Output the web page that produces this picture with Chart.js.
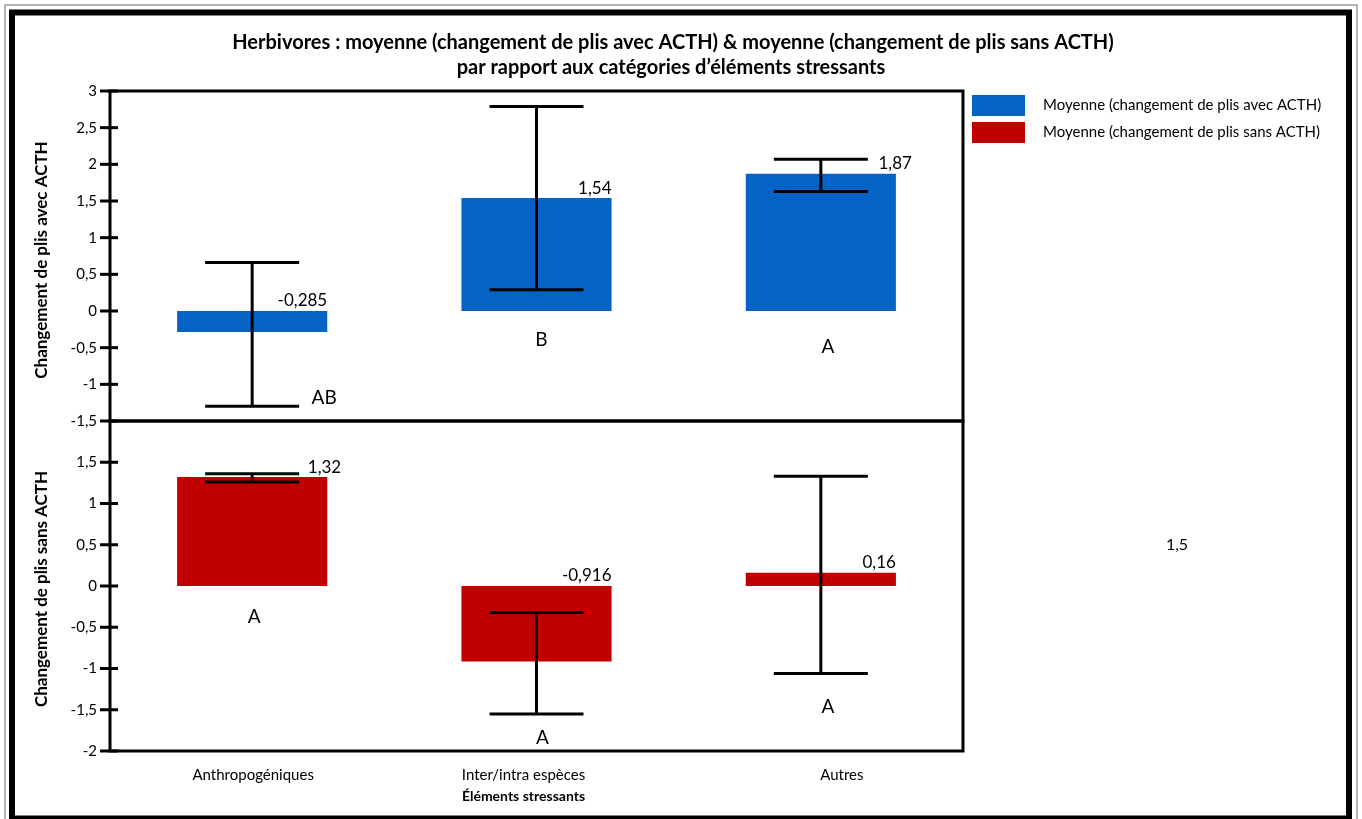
<!DOCTYPE html>
<html>
<head>
<meta charset="utf-8">
<script src="https://cdn.jsdelivr.net/npm/chart.js@4/dist/chart.umd.min.js"></script>
<style>
  html, body { margin: 0; padding: 0; background: #fff; }
  canvas { display: block; }
</style>
</head>
<body>
<canvas id="chart" width="1362" height="819"></canvas>
<script>
// Stressor categories and the two fold-change series (with / without ACTH)
const categories = ['Anthropogéniques', 'Inter/intra espèces', 'Autres'];

const meanWithACTH = [-0.285, 1.54, 1.87];
const errLowWithACTH = [-1.30, 0.29, 1.63];
const errHighWithACTH = [0.66, 2.79, 2.07];

const meanWithoutACTH = [1.32, -0.916, 0.16];
const errLowWithoutACTH = [1.26, -1.55, -1.06];
const errHighWithoutACTH = [1.36, -0.32, 1.33];

// Significance letters per category
const lettersWithACTH = ['AB', 'B', 'A'];
const lettersWithoutACTH = ['A', 'A', 'A'];
// Where each letter sits, in axis units
const letterValueWithACTH = [-1.19, -0.40, -0.49];
const letterValueWithoutACTH = [-0.38, -1.84, -1.47];

// Tick values of the two stacked y axes
const ticksWithACTH = [-1.5, -1, -0.5, 0, 0.5, 1, 1.5, 2, 2.5, 3];
const ticksWithoutACTH = [-2, -1.5, -1, -0.5, 0, 0.5, 1, 1.5];

const legendLabels = ['Moyenne (changement de plis avec ACTH)', 'Moyenne (changement de plis sans ACTH)'];
const titleLines = [
  'Herbivores : moyenne (changement de plis avec ACTH) & moyenne (changement de plis sans ACTH)',
  'par rapport aux catégories d’éléments stressants'
];
const xAxisTitle = 'Éléments stressants';
const yTitleTop = 'Changement de plis avec ACTH';
const yTitleBottom = 'Changement de plis sans ACTH';
const strayNote = '1,5';

const BLUE = '#0563C6';
const RED = '#C00000';
const FONT = 'Lato, "Open Sans", sans-serif';

const fmt = v => String(v).replace('.', ',');

// pixel nudges for text placement
const valueLabelNudgeTop = [0, 0, 16];
const valueLabelNudgeBottom = [14, 0, 0];
const letterNudgeTop = [72, 5, 7];
const letterNudgeBottom = [2, 6, 7];
const xLabelNudge = [1, -13, 21];

function line(ctx, x1, y1, x2, y2) {
  ctx.beginPath();
  ctx.moveTo(x1, y1);
  ctx.lineTo(x2, y2);
  ctx.stroke();
}

const decorations = {
  id: 'decorations',
  beforeDraw(chart) {
    const ctx = chart.ctx;
    ctx.save();
    ctx.fillStyle = '#fff';
    ctx.fillRect(0, 0, chart.width, chart.height);
    // outer page frame
    ctx.strokeStyle = '#9a9a9a';
    ctx.lineWidth = 1.5;
    ctx.strokeRect(5, 5, 1352, 830);
    ctx.strokeStyle = '#000';
    ctx.lineWidth = 6;
    ctx.strokeRect(12, 12.5, 1337, 806);
    ctx.restore();
  },
  afterDatasetsDraw(chart) {
    const ctx = chart.ctx;
    const x = chart.scales.x;
    const yTop = chart.scales.yTop;
    const yBot = chart.scales.yBottom;
    const area = chart.chartArea;
    ctx.save();
    ctx.strokeStyle = '#000';
    ctx.fillStyle = '#000';

    // panel frames
    ctx.lineWidth = 3;
    ctx.strokeRect(area.left, yTop.top, area.right - area.left, yTop.bottom - yTop.top);
    ctx.strokeRect(area.left, yBot.top, area.right - area.left, yBot.bottom - yBot.top);

    // tick marks crossing the axis
    [yTop, yBot].forEach(s => {
      s.ticks.forEach(t => {
        const py = s.getPixelForValue(t.value);
        line(ctx, area.left - 10, py, area.left + 8, py);
      });
    });

    // error bars
    const cap = 47;
    const drawErr = (scale, lo, hi) => {
      lo.forEach((v, i) => {
        const cx = x.getPixelForValue(i);
        const yl = scale.getPixelForValue(v);
        const yh = scale.getPixelForValue(hi[i]);
        ctx.lineWidth = 3;
        line(ctx, cx, yl, cx, yh);
        line(ctx, cx - cap, yl, cx + cap, yl);
        line(ctx, cx - cap, yh, cx + cap, yh);
      });
    };
    drawErr(yTop, errLowWithACTH, errHighWithACTH);
    drawErr(yBot, errLowWithoutACTH, errHighWithoutACTH);

    // value labels at the top right of each bar
    const drawValues = (meta, scale, values, nudge) => {
      ctx.font = '17px ' + FONT;
      ctx.textAlign = 'right';
      ctx.textBaseline = 'middle';
      values.forEach((v, i) => {
        const bar = meta.data[i];
        const right = bar.x + bar.width / 2;
        const py = scale.getPixelForValue(Math.max(v, 0)) - 10;
        ctx.fillText(fmt(v), right + nudge[i], py);
      });
    };
    drawValues(chart.getDatasetMeta(0), yTop, meanWithACTH, valueLabelNudgeTop);
    drawValues(chart.getDatasetMeta(1), yBot, meanWithoutACTH, valueLabelNudgeBottom);

    // significance letters
    ctx.font = '19px ' + FONT;
    ctx.textAlign = 'center';
    ctx.textBaseline = 'middle';
    lettersWithACTH.forEach((l, i) => {
      ctx.fillText(l, x.getPixelForValue(i) + letterNudgeTop[i], yTop.getPixelForValue(letterValueWithACTH[i]));
    });
    lettersWithoutACTH.forEach((l, i) => {
      ctx.fillText(l, x.getPixelForValue(i) + letterNudgeBottom[i], yBot.getPixelForValue(letterValueWithoutACTH[i]));
    });

    // category labels and x axis title
    ctx.font = '15px ' + FONT;
    ctx.textBaseline = 'middle';
    categories.forEach((c, i) => {
      ctx.fillText(c, x.getPixelForValue(i) + xLabelNudge[i], area.bottom + 24);
    });
    ctx.font = 'bold 14px ' + FONT;
    ctx.fillText(xAxisTitle, x.getPixelForValue(1) + xLabelNudge[1], area.bottom + 45);

    // title
    ctx.font = 'bold 20px ' + FONT;
    ctx.fillText(titleLines[0], 673, 43);
    ctx.fillText(titleLines[1], 671, 68);

    // y axis titles
    const yTitle = (text, cy) => {
      ctx.save();
      ctx.translate(42, cy);
      ctx.rotate(-Math.PI / 2);
      ctx.font = 'bold 17px ' + FONT;
      ctx.textAlign = 'center';
      ctx.textBaseline = 'middle';
      ctx.fillText(text, 0, 0);
      ctx.restore();
    };
    yTitle(yTitleTop, (yTop.top + yTop.bottom) / 2 + 4);
    yTitle(yTitleBottom, (yBot.top + yBot.bottom) / 2 + 3);

    // legend
    const colors = [BLUE, RED];
    legendLabels.forEach((t, i) => {
      const top = 95 + i * 27;
      ctx.fillStyle = colors[i];
      ctx.fillRect(area.right + 9, top, 53, 21);
      ctx.fillStyle = '#000';
      ctx.font = '15px ' + FONT;
      ctx.textAlign = 'left';
      ctx.textBaseline = 'middle';
      ctx.fillText(t, area.right + 80, top + 10);
    });

    // free-floating note on the right
    ctx.font = '16px ' + FONT;
    ctx.textAlign = 'center';
    ctx.fillText(strayNote, 1177, 545);

    ctx.restore();
  }
};

const yAxisCommon = (tickValues) => ({
  position: 'left',
  stack: 'panels',
  stackWeight: 1,
  grid: { display: false, drawTicks: false },
  border: { display: false },
  afterFit(s) { s.width = 60; },
  afterBuildTicks(s) { s.ticks = tickValues.map(v => ({ value: v })); },
  ticks: {
    color: '#000',
    padding: 13,
    autoSkip: false,
    font: { family: FONT, size: 15 },
    callback: v => fmt(v)
  }
});

new Chart(document.getElementById('chart'), {
  type: 'bar',
  data: {
    labels: categories,
    datasets: [
      { label: legendLabels[0], data: meanWithACTH, backgroundColor: BLUE, yAxisID: 'yTop' },
      { label: legendLabels[1], data: meanWithoutACTH, backgroundColor: RED, yAxisID: 'yBottom' }
    ]
  },
  options: {
    responsive: false,
    animation: false,
    layout: { padding: { left: 50, top: 91, right: 399, bottom: 68 } },
    datasets: { bar: { grouped: false, barPercentage: 1, categoryPercentage: 0.528 } },
    plugins: { legend: { display: false }, tooltip: { enabled: false } },
    scales: {
      x: { display: false, offset: true },
      yBottom: Object.assign(yAxisCommon(ticksWithoutACTH), { min: -2, max: 2 }),
      yTop: Object.assign(yAxisCommon(ticksWithACTH), { min: -1.5, max: 3 })
    }
  },
  plugins: [decorations]
});
</script>
</body>
</html>
